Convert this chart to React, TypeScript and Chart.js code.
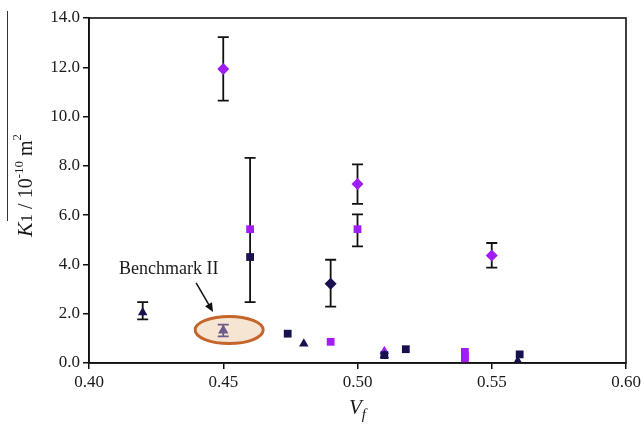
import React, { useEffect, useRef } from "react";
import { Chart, registerables } from "chart.js";

Chart.register(...registerables);

// ---- data ----
const navyTriX = [0.42, 0.48, 0.51, 0.5597];
const navyTriY = [2.05, 0.78, 0.3, 0.08];
const navySqX = [0.46, 0.474, 0.51, 0.518, 0.5604];
const navySqY = [4.3, 1.19, 0.32, 0.56, 0.35];
const navyDiaX = [0.49];
const navyDiaY = [3.22];
const purpleDiaX = [0.45, 0.5, 0.55];
const purpleDiaY = [11.93, 7.26, 4.36];
const purpleSqX = [0.46, 0.49, 0.5, 0.54, 0.54, 0.54];
const purpleSqY = [5.43, 0.86, 5.43, 0.45, 0.28, 0.12];
const purpleTriX = [0.51];
const purpleTriY = [0.48];
const benchX = [0.45];
const benchY = [1.32];

// error bars
const errX = [0.42, 0.45, 0.46, 0.49, 0.5, 0.5, 0.55];
const errLow = [1.77, 10.65, 2.47, 2.29, 6.46, 4.73, 3.87];
const errHigh = [2.47, 13.22, 8.32, 4.19, 8.06, 6.03, 4.87];
const benchLow = [1.08];
const benchHigh = [1.56];

// axis ticks
const xMin = 0.4, xMax = 0.6, xStep = 0.05;
const yMin = 0, yMax = 14, yStep = 2;

// annotation
const annText = "Benchmark II";
const annTextPos = [0.4297, 3.8];
const arrowFrom = [0.4399, 3.25];
const arrowTo = [0.4462, 2.07];
const ellipseCenter = [0.4522, 1.34];

const NAVY = "#17114f";
const PURPLE = "#a11df5";
const BENCH = "#6b5b8a";
const SERIF = "'Liberation Serif', 'DejaVu Serif', serif";

const pts = (xs: number[], ys: number[]) => xs.map((x, i) => ({ x, y: ys[i] }));

const decorPlugin = {
  id: "decor",
  beforeDatasetsDraw(chart: any) {
    const { ctx } = chart;
    const xs = chart.scales.x, ys = chart.scales.y;
    ctx.save();
    const cx = xs.getPixelForValue(ellipseCenter[0]);
    const cy = ys.getPixelForValue(ellipseCenter[1]);
    ctx.beginPath();
    ctx.ellipse(cx, cy, 34, 13.5, 0, 0, Math.PI * 2);
    ctx.fillStyle = "#f6e5d3";
    ctx.fill();
    ctx.lineWidth = 3;
    ctx.strokeStyle = "#c4652c";
    ctx.stroke();
    ctx.restore();

    const bar = (x: number, lo: number, hi: number, color: string) => {
      const px = xs.getPixelForValue(x);
      const pl = ys.getPixelForValue(lo);
      const ph = ys.getPixelForValue(hi);
      ctx.save();
      ctx.strokeStyle = color;
      ctx.lineWidth = 1.8;
      ctx.beginPath();
      ctx.moveTo(px, pl);
      ctx.lineTo(px, ph);
      ctx.moveTo(px - 5.5, pl);
      ctx.lineTo(px + 5.5, pl);
      ctx.moveTo(px - 5.5, ph);
      ctx.lineTo(px + 5.5, ph);
      ctx.stroke();
      ctx.restore();
    };
    errX.forEach((x, i) => bar(x, errLow[i], errHigh[i], "#111"));
    benchX.forEach((x, i) => bar(x, benchLow[i], benchHigh[i], BENCH));
  },
  afterDraw(chart: any) {
    const { ctx, chartArea } = chart;
    const xs = chart.scales.x, ys = chart.scales.y;
    ctx.save();
    ctx.strokeStyle = "#111";
    ctx.lineWidth = 1.6;
    ctx.strokeRect(chartArea.left, chartArea.top, chartArea.right - chartArea.left, chartArea.bottom - chartArea.top);

    ctx.fillStyle = "#1a1a1a";
    ctx.font = `18px ${SERIF}`;
    ctx.textAlign = "center";
    ctx.textBaseline = "middle";
    ctx.fillText(annText, xs.getPixelForValue(annTextPos[0]), ys.getPixelForValue(annTextPos[1]));

    const x1 = xs.getPixelForValue(arrowFrom[0]), y1 = ys.getPixelForValue(arrowFrom[1]);
    const x2 = xs.getPixelForValue(arrowTo[0]), y2 = ys.getPixelForValue(arrowTo[1]);
    const ang = Math.atan2(y2 - y1, x2 - x1);
    ctx.strokeStyle = "#111";
    ctx.lineWidth = 1.5;
    ctx.beginPath();
    ctx.moveTo(x1, y1);
    ctx.lineTo(x2 - 5 * Math.cos(ang), y2 - 5 * Math.sin(ang));
    ctx.stroke();
    ctx.fillStyle = "#111";
    ctx.beginPath();
    ctx.moveTo(x2, y2);
    ctx.lineTo(x2 - 9 * Math.cos(ang) + 4 * Math.sin(ang), y2 - 9 * Math.sin(ang) - 4 * Math.cos(ang));
    ctx.lineTo(x2 - 9 * Math.cos(ang) - 4 * Math.sin(ang), y2 - 9 * Math.sin(ang) + 4 * Math.cos(ang));
    ctx.closePath();
    ctx.fill();

    const segs = [
      { t: "K", f: `italic 22px ${SERIF}`, dy: 0 },
      { t: "1", f: `17px ${SERIF}`, dy: 0 },
      { t: " / 10", f: `20px ${SERIF}`, dy: 0 },
      { t: "-10", f: `13px ${SERIF}`, dy: -9 },
      { t: " m", f: `20px ${SERIF}`, dy: 0 },
      { t: "2", f: `13px ${SERIF}`, dy: -11 },
    ];
    let total = 0;
    segs.forEach((s) => { ctx.font = s.f; total += ctx.measureText(s.t).width; });
    const cyTitle = (chartArea.top + chartArea.bottom) / 2 - 5;
    ctx.save();
    ctx.translate(32, cyTitle);
    ctx.rotate(-Math.PI / 2);
    ctx.textAlign = "left";
    ctx.textBaseline = "alphabetic";
    ctx.fillStyle = "#1a1a1a";
    let px = -total / 2;
    segs.forEach((s) => {
      ctx.font = s.f;
      ctx.fillText(s.t, px, s.dy);
      px += ctx.measureText(s.t).width;
    });
    ctx.restore();
    ctx.strokeStyle = "#333";
    ctx.lineWidth = 1;
    ctx.beginPath();
    ctx.moveTo(7.5, chartArea.top - 7);
    ctx.lineTo(7.5, 221);
    ctx.stroke();

    const cxT = (chartArea.left + chartArea.right) / 2;
    ctx.fillStyle = "#1a1a1a";
    ctx.textAlign = "left";
    ctx.textBaseline = "alphabetic";
    ctx.font = `italic 21px ${SERIF}`;
    const wV = ctx.measureText("V").width;
    ctx.font = `italic 15px ${SERIF}`;
    const wf = ctx.measureText("f").width;
    const start = cxT - (wV + wf) / 2;
    ctx.font = `italic 21px ${SERIF}`;
    ctx.fillText("V", start, 414);
    ctx.font = `italic 15px ${SERIF}`;
    ctx.fillText("f", start + wV, 419);
    ctx.restore();
  },
};

export default function App() {
  const ref = useRef<HTMLCanvasElement>(null);
  useEffect(() => {
    document.body.style.margin = "0";
    if (!ref.current) return;
    const common = { showLine: false, borderWidth: 0 };
    const chart = new Chart(ref.current, {
      type: "scatter",
      data: {
        datasets: [
          { ...common, data: pts(navyTriX, navyTriY), pointStyle: "triangle", pointRadius: 5.5, backgroundColor: NAVY, borderColor: NAVY },
          { ...common, data: pts(navySqX, navySqY), pointStyle: "rect", pointRadius: 5.5, backgroundColor: NAVY, borderColor: NAVY },
          { ...common, data: pts(navyDiaX, navyDiaY), pointStyle: "rectRot", pointRadius: 6, backgroundColor: NAVY, borderColor: NAVY },
          { ...common, data: pts(purpleSqX, purpleSqY), pointStyle: "rect", pointRadius: 5.5, backgroundColor: PURPLE, borderColor: PURPLE },
          { ...common, data: pts(purpleDiaX, purpleDiaY), pointStyle: "rectRot", pointRadius: 6, backgroundColor: PURPLE, borderColor: PURPLE },
          { ...common, data: pts(purpleTriX, purpleTriY), pointStyle: "triangle", pointRadius: 5.5, backgroundColor: PURPLE, borderColor: PURPLE },
          { ...common, data: pts(benchX, benchY), pointStyle: "triangle", pointRadius: 6, backgroundColor: BENCH, borderColor: BENCH },
        ],
      },
      options: {
        animation: false,
        responsive: true,
        maintainAspectRatio: false,
        layout: { padding: { left: 0, right: 18, top: 18, bottom: 0 } },
        plugins: { legend: { display: false }, tooltip: { enabled: false } },
        scales: {
          x: {
            type: "linear",
            min: xMin,
            max: xMax,
            afterFit: (s: any) => { s.height = 70; },
            ticks: {
              stepSize: xStep,
              callback: (v: any) => Number(v).toFixed(2),
              font: { family: SERIF, size: 17 },
              color: "#1a1a1a",
              padding: 3,
              maxRotation: 0,
            },
            grid: { drawOnChartArea: false, tickLength: 6, color: "#111", lineWidth: 1.5 },
            border: { color: "#111", width: 1.6 },
          },
          y: {
            type: "linear",
            min: yMin,
            max: yMax,
            afterFit: (s: any) => { s.width = 89; },
            ticks: {
              stepSize: yStep,
              callback: (v: any) => Number(v).toFixed(1),
              font: { family: SERIF, size: 17 },
              color: "#1a1a1a",
              padding: 3,
            },
            grid: { drawOnChartArea: false, tickLength: 6, color: "#111", lineWidth: 1.5 },
            border: { color: "#111", width: 1.6 },
          },
        },
      },
      plugins: [decorPlugin],
    });
    return () => chart.destroy();
  }, []);
  return (
    <div style={{ width: 644, height: 433, position: "relative", background: "#fff" }}>
      <canvas ref={ref} />
    </div>
  );
}
